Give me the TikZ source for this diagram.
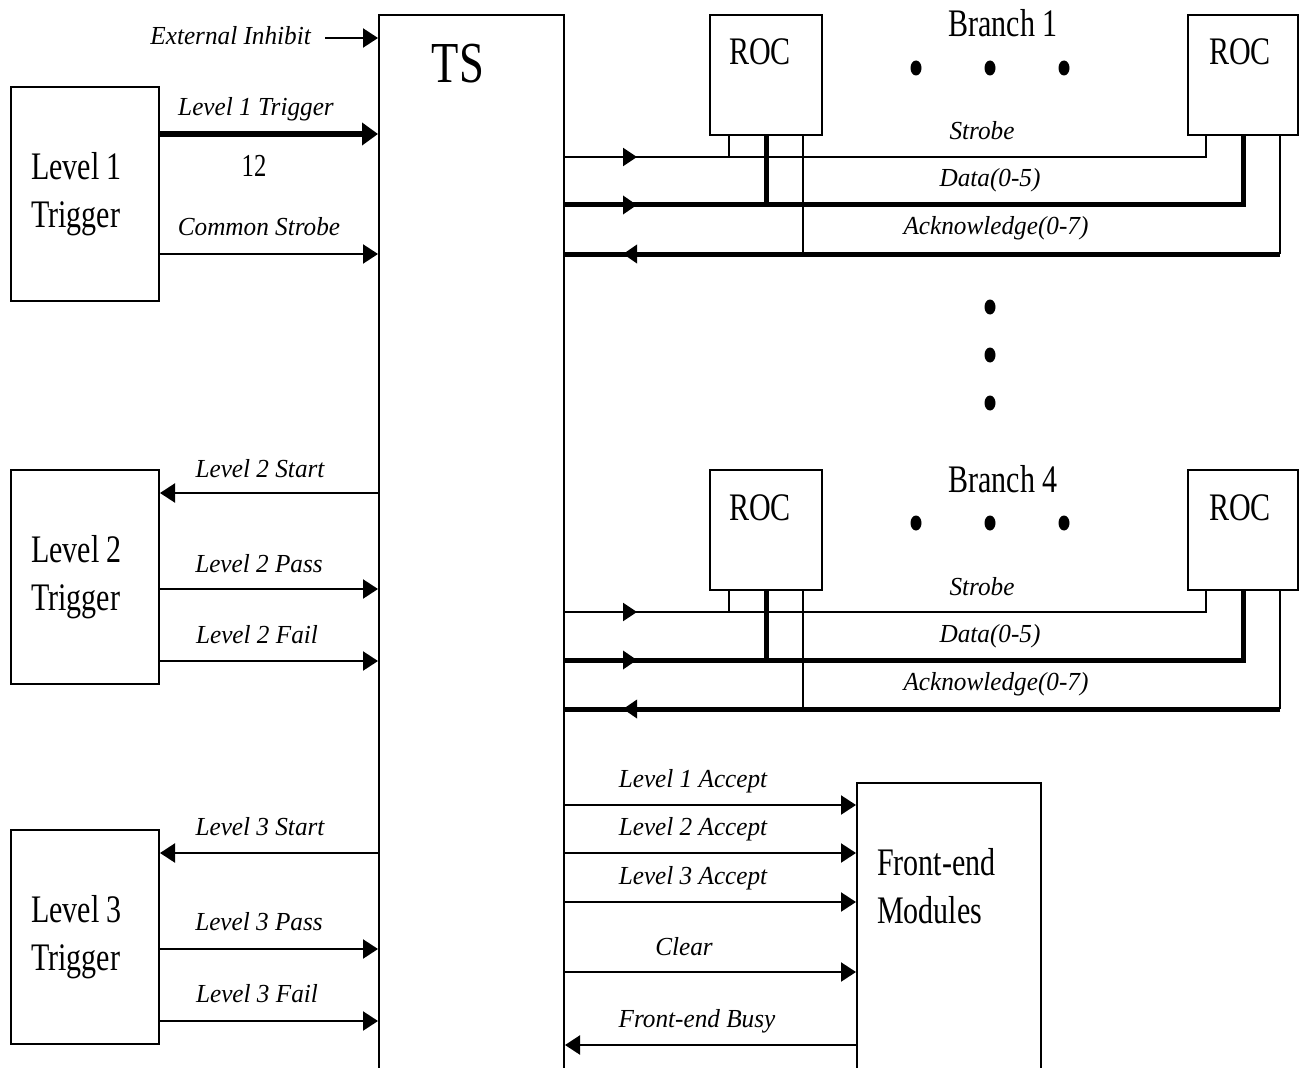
\documentclass[tikz,border=0pt]{standalone}
\usepackage{fontspec}
\setmainfont{Liberation Serif}
\newfontfamily\condf[FakeStretch=0.77]{Liberation Serif}
\newfontfamily\labf[FakeStretch=0.97]{Liberation Serif}
\usetikzlibrary{arrows.meta}
\begin{document}
\begin{tikzpicture}[x=1pt,y=-1pt,
  box/.style={draw, line width=2pt, inner sep=0pt},
  big/.style={font=\condf\fontsize{39}{48}\selectfont, inner sep=0pt},
  tsf/.style={font=\condf\fontsize{58}{60}\selectfont, inner sep=0pt},
  twelvef/.style={font=\condf\fontsize{32}{36}\selectfont, inner sep=0pt},
  lab/.style={font=\labf\itshape\fontsize{26}{30}\selectfont, anchor=base, inner sep=0pt},
  trig/.style={box, big, minimum width=148pt, minimum height=214pt, align=left,
               text width=108pt, inner xsep=20pt, anchor=north west,
               execute at begin node={\spaceskip=\fontdimen2\font\relax}},
  rocbox/.style={box, minimum height=120pt, anchor=north west},
  sig/.style={line width=2.2pt},
  bus/.style={line width=5pt},
  tip/.style={-{Triangle[length=15pt,width=19pt]}},
  midtip/.style={-{Triangle[length=14pt,width=18pt]}},
  bigtip/.style={-{Triangle[length=16pt,width=22pt]}},
  dot/.style={fill=black}
]
\useasboundingbox (0,0) rectangle (1305,1067);
\fill[white] (0,0) rectangle (1305,1067);
\clip (0,0) rectangle (1305,1067);

% TS box
\node[box, minimum width=185pt, minimum height=1100pt, anchor=north west] (ts) at (378,14) {};
\node[tsf, anchor=base] (tst) at (458,83) {TS};

% External inhibit
\node[lab, anchor=base east] (extlab) at (311,45) {External Inhibit};
\coordinate (exts) at (325,38);
\draw[sig, tip] (exts) -- (ts.west |- exts);

% Trigger boxes
\node[trig] (l1) at (10,86) {Level 1\\Trigger};
\node[trig] (l2) at (10,469) {Level 2\\Trigger};
\node[trig] (l3) at (10,829) {Level 3\\Trigger};

% Level 1 signals
\draw[line width=6pt, bigtip] (l1.east |- 0,134) -- (ts.west |- 0,134);
\node[lab] (l1tl) at (256,116) {Level 1 Trigger};
\node[twelvef, anchor=base] (n12) at (254,177) {12};
\draw[sig, tip] (l1.east |- 0,254) -- (ts.west |- 0,254);
\node[lab] (csl) at (259,236) {Common Strobe};

% Level 2 signals
\draw[sig, tip] (ts.west |- 0,493) -- (l2.east |- 0,493);
\node[lab] (l2sl) at (260,477) {Level 2 Start};
\draw[sig, tip] (l2.east |- 0,589) -- (ts.west |- 0,589);
\node[lab] (l2pl) at (259,572) {Level 2 Pass};
\draw[sig, tip] (l2.east |- 0,661) -- (ts.west |- 0,661);
\node[lab] (l2fl) at (257,643) {Level 2 Fail};

% Level 3 signals
\draw[sig, tip] (ts.west |- 0,853) -- (l3.east |- 0,853);
\node[lab] (l3sl) at (260,835) {Level 3 Start};
\draw[sig, tip] (l3.east |- 0,949) -- (ts.west |- 0,949);
\node[lab] (l3pl) at (259,930) {Level 3 Pass};
\draw[sig, tip] (l3.east |- 0,1021) -- (ts.west |- 0,1021);
\node[lab] (l3fl) at (257,1002) {Level 3 Fail};

% Branches
\foreach \b/\dy in {1/0,4/455}{
\begin{scope}[yshift=-\dy pt]
  \node[rocbox, minimum width=112pt] (rocA\b) at (709,14) {};
  \node[big, anchor=base] (rocAt\b) at (760,65) {ROC};
  \node[rocbox, minimum width=110pt] (rocB\b) at (1187,14) {};
  \node[big, anchor=base] (rocBt\b) at (1240,65) {ROC};
  \node[big, anchor=base] (br\b) at (1003,37) {Branch \b};
  \fill[dot] (916,68) ellipse [x radius=5.5pt, y radius=7.5pt];
  \fill[dot] (990,68) ellipse [x radius=5.5pt, y radius=7.5pt];
  \fill[dot] (1064,68) ellipse [x radius=5.5pt, y radius=7.5pt];
  \coordinate (ys\b) at (0,157);
  \coordinate (yd\b) at (0,205);
  \coordinate (ya\b) at (0,254);
  % Strobe
  \draw[sig] ([xshift=-37pt]rocB\b.south) |- (ts.east |- ys\b);
  \draw[sig] ([xshift=-37pt]rocA\b.south) -- ([xshift=-37pt]rocA\b.south |- ys\b);
  \draw[sig, midtip] (ts.east |- ys\b) -- ++(72,0);
  \node[lab] (strl\b) at (982,140) {Strobe};
  % Data
  \draw[bus] (rocB\b.south) |- (ts.east |- yd\b);
  \draw[bus] (rocA\b.south) -- (rocA\b.south |- yd\b);
  \draw[bus, midtip] (ts.east |- yd\b) -- ++(72,0);
  \node[lab] (datl\b) at (990,187) {Data(0-5)};
  % Acknowledge
  \draw[sig] ([xshift=37pt]rocB\b.south) -- ([xshift=37pt]rocB\b.south |- ya\b);
  \draw[bus] ([xshift=37pt]rocB\b.south |- ya\b) -- (ts.east |- ya\b);
  \draw[sig] ([xshift=37pt]rocA\b.south) -- ([xshift=37pt]rocA\b.south |- ya\b);
  \draw[bus, midtip] (ts.east |- ya\b) ++(76,0) -- ++(-18,0);
  \node[lab] (ackl\b) at (996,235) {Acknowledge(0-7)};
\end{scope}}

% vertical dots between branches
\fill[dot] (990,307) ellipse [x radius=5.5pt, y radius=7.5pt];
\fill[dot] (990,355) ellipse [x radius=5.5pt, y radius=7.5pt];
\fill[dot] (990,403) ellipse [x radius=5.5pt, y radius=7.5pt];

% Front-end modules
\node[box, minimum width=184pt, minimum height=400pt, anchor=north west] (fe) at (856,782) {};
\node[big, align=left, anchor=north west] (fet) at (877,848.4) {Front-end\\Modules};

\draw[sig, tip] (ts.east |- 0,805) -- (fe.west |- 0,805);
\node[lab] (a1l) at (693,787) {Level 1 Accept};
\draw[sig, tip] (ts.east |- 0,853) -- (fe.west |- 0,853);
\node[lab] (a2l) at (693,835) {Level 2 Accept};
\draw[sig, tip] (ts.east |- 0,902) -- (fe.west |- 0,902);
\node[lab] (a3l) at (693,884) {Level 3 Accept};
\draw[sig, tip] (ts.east |- 0,972) -- (fe.west |- 0,972);
\node[lab] (clrl) at (684,955) {Clear};
\draw[sig, tip] (fe.west |- 0,1045) -- (ts.east |- 0,1045);
\node[lab] (busyl) at (697,1027) {Front-end Busy};
\end{tikzpicture}
\end{document}
